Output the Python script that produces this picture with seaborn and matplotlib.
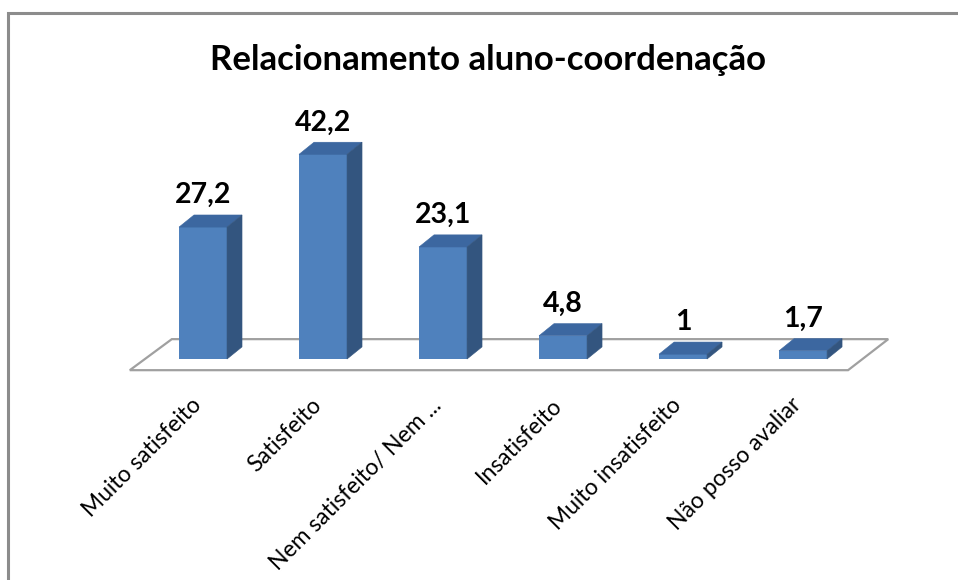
import matplotlib
matplotlib.use('Agg')

import matplotlib.pyplot as plt
from matplotlib.patches import Polygon, Rectangle
import pandas as pd
import seaborn as sns

sns.set_style("white")
plt.rcParams['font.family'] = ['Lato', 'DejaVu Sans']
plt.rcParams['text.color'] = 'black'

# data
categories = ["Muito satisfeito", "Satisfeito", "Nem satisfeito/ Nem ...",
              "Insatisfeito", "Muito insatisfeito", "Não posso avaliar"]
values = [27.2, 42.2, 23.1, 4.8, 1, 1.7]
value_labels = ["27,2", "42,2", "23,1", "4,8", "1", "1,7"]

df = pd.DataFrame({"categoria": categories, "valor": values})

front_col = "#4F81BD"
top_col = "#3C67A0"
side_col = "#33557F"

# fake 3d depth (in data units)
dx, dy = 0.125, 2.5

fig = plt.figure(figsize=(9.58, 5.8), dpi=100)
ax = fig.add_axes([0.1117, 0.3559, 0.8393, 0.4432])

sns.barplot(data=df, x="categoria", y="valor", color=front_col, width=0.4,
            saturation=1, linewidth=0, ax=ax, zorder=3)

ax.set_xlim(-0.8, 5.9)
ax.set_ylim(-3, 50)

# floor plane
n = len(categories)
floor = Polygon([(-0.61, -2.3), (n - 0.625, -2.3), (n - 0.29, 4.1), (-0.26, 4.1)],
                closed=True, facecolor="white", edgecolor="#A0A0A0", lw=1.6, zorder=1)
ax.add_patch(floor)

# top and side faces of each bar
for bar in ax.patches[:n]:
    x0 = bar.get_x()
    w = bar.get_width()
    h = bar.get_height()
    top = Polygon([(x0, h), (x0 + w, h), (x0 + w + dx, h + dy), (x0 + dx, h + dy)],
                  closed=True, facecolor=top_col, edgecolor=top_col, lw=0.4, zorder=3)
    side = Polygon([(x0 + w, 0), (x0 + w + dx, dy), (x0 + w + dx, h + dy), (x0 + w, h)],
                   closed=True, facecolor=side_col, edgecolor=side_col, lw=0.4, zorder=3)
    ax.add_patch(top)
    ax.add_patch(side)

# value labels
for i, (v, lab) in enumerate(zip(values, value_labels)):
    ax.text(i, v + dy + 1.4, lab, ha="center", va="bottom", fontsize=20.5,
            fontweight="bold", color="black", clip_on=False)

# category labels, rotated
ax.set_xticks([])
ax.set_yticks([])
ax.set_xlabel("")
ax.set_ylabel("")
for i, cat in enumerate(categories):
    ax.text(i - 0.04, -8.8, cat, rotation=45, rotation_mode="anchor",
            ha="right", va="center", fontsize=16.5, color="black", clip_on=False)

sns.despine(ax=ax, left=True, bottom=True)

fig.text(488 / 958, 1 - 60 / 580, "Relacionamento aluno-coordenação",
         ha="center", va="center", fontsize=25, fontweight="bold", color="black")

# chart area border
fig.add_artist(Rectangle((8 / 958, -0.1), 1.2, 1.1 - 13 / 580, transform=fig.transFigure,
                         fill=False, edgecolor="#8C8C8C", lw=2.2))

plt.savefig("out.png", dpi=100)
